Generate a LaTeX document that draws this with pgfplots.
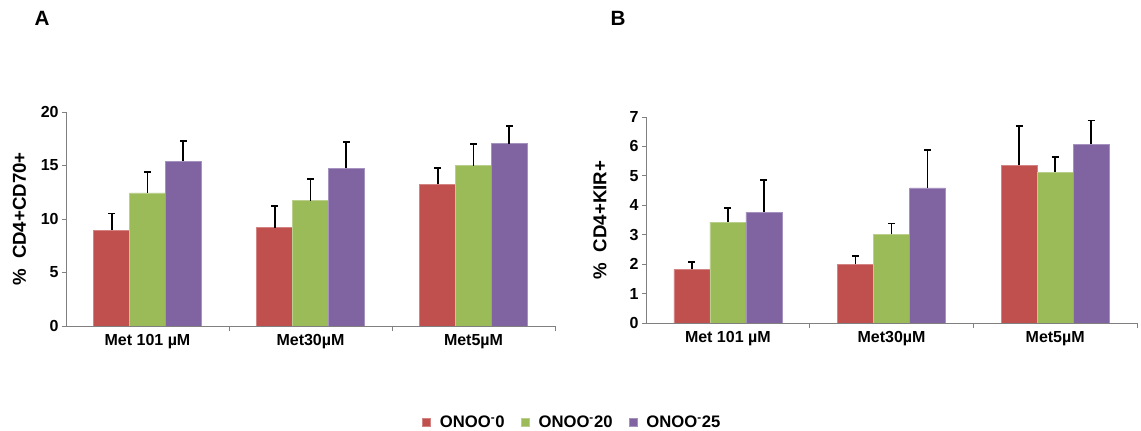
\documentclass[border=0pt]{standalone}
\usepackage{pgfplots}
\pgfplotsset{compat=1.18}
\usepackage{fontspec}
\setmainfont{Liberation Sans}
\definecolor{cred}{HTML}{C0504D}
\definecolor{cgreen}{HTML}{9BBB59}
\definecolor{cpurple}{HTML}{8064A2}
\pgfplotsset{
  mybars/.style={
    scale only axis,
    xmin=-0.5, xmax=2.5, ymin=0,
    axis x line=bottom, axis y line=left,
    axis line style={-, line width=0.7pt, black!50},
    xtick={0,1,2},
    xticklabels={Met 101 µM, Met30µM, Met5µM},
    major x tick style={draw=none},
    minor xtick={0.5,1.5,2.5},
    minor x tick style={line width=0.7pt, black!50},
    minor tick length=4pt,
    major tick length=3pt,
    tick align=outside,
    ytick style={line width=0.7pt, black!50},
    /pgf/number format/assume math mode=true,
    ticklabel style={font=\bfseries\fontsize{12}{14}\selectfont},
    yticklabel style={xshift=1pt},
    ylabel style={font=\bfseries\fontsize{14}{16}\selectfont, anchor=center},
    bar width=0.22,
    ybar,
    error bars/y dir=plus,
    error bars/y explicit,
    error bars/error bar style={line width=1.4pt, black},
    error bars/error mark options={line width=1.4pt, black, mark size=2.6pt, rotate=90},
  },
}
\begin{document}
\begin{tikzpicture}
\useasboundingbox (0,0) rectangle (855.75pt,323.25pt);
\node[font=\bfseries\fontsize{15.5}{17}\selectfont] at (31.5pt,309.5pt) {A};
\node[font=\bfseries\fontsize{15.5}{17}\selectfont] at (463.5pt,309.5pt) {B};
% Panel A
\begin{axis}[mybars,
  at={(49.5pt,78.75pt)}, anchor=south west,
  width=366.75pt, height=160.5pt,
  ymax=20, ytick={0,5,10,15,20},
  ylabel={\%\ \ CD4+CD70+},
  ylabel style={at={(axis description cs:-0.095,0.5)}},
  legend columns=3,
  legend style={at={(axis description cs:1.036,-0.45)}, anchor=center, draw=none,
    font=\bfseries\fontsize{12.5}{14}\selectfont,
    /tikz/every odd column/.append style={column sep=5pt},
    /tikz/every even column/.append style={column sep=10pt}},
  legend image code/.code={\fill[#1] (0pt,-3pt) rectangle (6pt,3pt);},
]
\addplot[fill=cred, draw=cred!70!white, bar shift=-0.22] coordinates {
  (0,8.97) +- (0,1.55)
  (1,9.19) +- (0,2.0)
  (2,13.24) +- (0,1.53)
};
\addplot[fill=cgreen, draw=cgreen!70!white, bar shift=0] coordinates {
  (0,12.43) +- (0,1.93)
  (1,11.71) +- (0,2.06)
  (2,14.98) +- (0,2.0)
};
\addplot[fill=cpurple, draw=cpurple!70!white, bar shift=0.22] coordinates {
  (0,15.42) +- (0,1.9)
  (1,14.73) +- (0,2.46)
  (2,17.04) +- (0,1.62)
};
\legend{ONOO\textsuperscript{-}0, ONOO\textsuperscript{-}20, ONOO\textsuperscript{-}25}
\end{axis}
% Panel B
\begin{axis}[mybars,
  at={(484.5pt,81pt)}, anchor=south west,
  width=368.25pt, height=154.5pt,
  ymax=7, ytick={0,1,2,3,4,5,6,7},
  ylabel={\%\ \ CD4+KIR+},
  ylabel style={at={(axis description cs:-0.094,0.5)}},
]
\addplot[fill=cred, draw=cred!70!white, bar shift=-0.22] coordinates {
  (0,1.82) +- (0,0.25)
  (1,2.0) +- (0,0.29)
  (2,5.36) +- (0,1.32)
};
\addplot[fill=cgreen, draw=cgreen!70!white, bar shift=0] coordinates {
  (0,3.43) +- (0,0.47)
  (1,3.01) +- (0,0.37)
  (2,5.13) +- (0,0.52)
};
\addplot[fill=cpurple, draw=cpurple!70!white, bar shift=0.22] coordinates {
  (0,3.77) +- (0,1.08)
  (1,4.59) +- (0,1.3)
  (2,6.08) +- (0,0.8)
};
\end{axis}
\end{tikzpicture}
\end{document}
